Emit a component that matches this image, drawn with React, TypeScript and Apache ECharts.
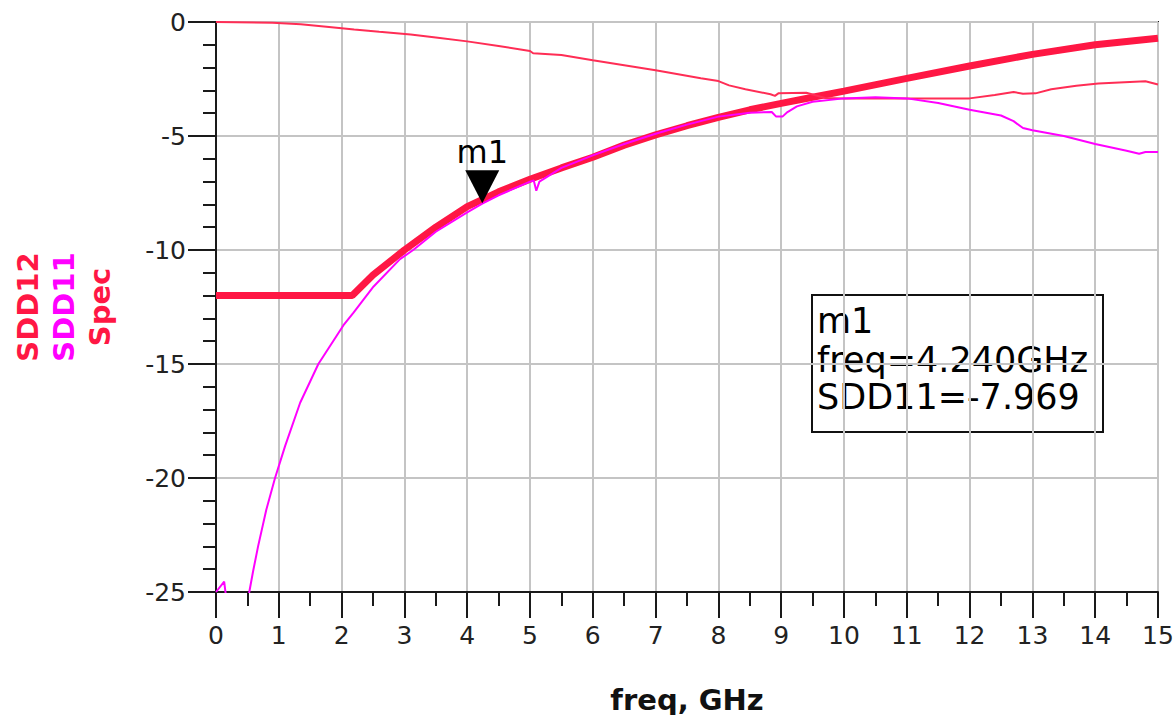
import React, { useEffect, useRef } from "react";
import * as echarts from "echarts";

// Differential return loss (SDD11), insertion loss (SDD12) and the spec mask, in dB vs frequency (GHz)
const freqSpec = [0, 2.17, 2.5, 3, 3.5, 4, 4.5, 5, 5.5, 6, 6.5, 7, 7.5, 8, 8.5, 9, 9.5, 10, 11, 12, 13, 14, 15];
const specDb = [-12, -12, -11.1, -10.0, -9.0, -8.1, -7.45, -6.9, -6.4, -5.93, -5.4, -4.95, -4.55, -4.18, -3.85, -3.57, -3.3, -3.03, -2.47, -1.93, -1.42, -1.0, -0.71];

const freqSdd11 = [0, 0.13, 0.22, 0.35, 0.48, 0.53, 0.59, 0.67, 0.8, 0.94, 1.1, 1.34, 1.63, 2.03, 2.19, 2.51, 2.93, 3.14, 3.5, 4.0, 4.24, 4.5, 5.0, 5.06, 5.1, 5.15, 5.5, 6, 6.5, 7, 7.5, 8, 8.5, 8.85, 8.92, 9.02, 9.1, 9.25, 9.5, 10, 10.5, 11, 11.5, 12, 12.5, 12.7, 12.85, 13, 13.5, 14, 14.5, 14.7, 14.8, 15];
const sdd11Db = [-25.0, -24.55, -26.5, -28, -25.6, -25.0, -24.1, -23.0, -21.4, -20.0, -18.6, -16.7, -15.0, -13.3, -12.75, -11.6, -10.4, -10.0, -9.2, -8.35, -7.969, -7.6, -7.0, -6.95, -7.4, -7.0, -6.4, -5.85, -5.35, -4.9, -4.5, -4.15, -3.98, -3.95, -4.15, -4.15, -3.95, -3.7, -3.5, -3.35, -3.3, -3.35, -3.55, -3.85, -4.1, -4.35, -4.65, -4.75, -5.0, -5.35, -5.65, -5.78, -5.7, -5.7];

const freqSdd12 = [0, 0.9, 1.35, 1.8, 2.2, 2.6, 3.1, 3.5, 4, 4.5, 5, 5.05, 5.5, 6, 6.5, 7, 7.72, 8, 8.17, 8.43, 8.83, 8.9, 8.96, 9.4, 9.7, 10, 11, 12, 12.4, 12.7, 12.85, 13.05, 13.3, 13.7, 14.05, 14.8, 15];
const sdd12Db = [0, -0.03, -0.1, -0.22, -0.33, -0.43, -0.55, -0.68, -0.85, -1.05, -1.27, -1.37, -1.45, -1.68, -1.9, -2.12, -2.47, -2.59, -2.78, -2.95, -3.17, -3.24, -3.12, -3.1, -3.33, -3.35, -3.35, -3.35, -3.2, -3.07, -3.15, -3.13, -2.95, -2.8, -2.7, -2.6, -2.74];

// Marker m1 on SDD11
const markerName = "m1";
const markerFreq = 4.24;
const markerValue = -7.969;

const RED = "#ff1744";
const RED_THIN = "#ff2d55";
const MAGENTA = "#ff00ff";
const INK = "#1a1a1a";
const FONT = "DejaVu Sans";

const zip = (xs: number[], ys: number[]) => xs.map((x, i) => [x, ys[i]]);

export default function App() {
  const ref = useRef<HTMLDivElement>(null);

  useEffect(() => {
    const chart = echarts.init(ref.current!, null, { renderer: "svg" });

    const tickStyle = { color: INK, width: 2 };
    const nameRich = {
      a: { color: RED, fontSize: 29, fontWeight: "bold", fontFamily: FONT, lineHeight: 36 },
      b: { color: MAGENTA, fontSize: 29, fontWeight: "bold", fontFamily: FONT, lineHeight: 36 },
      c: { color: RED, fontSize: 29, fontWeight: "bold", fontFamily: FONT, lineHeight: 36 },
    };

    chart.setOption({
      animation: false,
      backgroundColor: "#ffffff",
      grid: {
        left: 216,
        top: 22,
        right: 18,
        bottom: 123,
        containLabel: false,
        outerBoundsMode: "none",
        show: true,
        borderColor: INK,
        borderWidth: 2,
      },
      xAxis: {
        type: "value",
        min: 0,
        max: 15,
        interval: 1,
        axisLine: { onZero: false, lineStyle: tickStyle },
        axisTick: { length: 26, lineStyle: tickStyle },
        minorTick: { show: true, splitNumber: 2, length: 14, lineStyle: tickStyle },
        splitLine: { show: true, lineStyle: { color: "#c4c4c4", width: 2 } },
        axisLabel: { margin: 31, fontSize: 25, color: "#222", fontFamily: FONT },
        name: "freq, GHz",
        nameLocation: "middle",
        nameGap: 93,
        nameTextStyle: { fontSize: 29, fontWeight: "bold", color: "#111", fontFamily: FONT },
      },
      yAxis: {
        type: "value",
        min: -25,
        max: 0,
        interval: 5,
        axisLine: { onZero: false, lineStyle: tickStyle },
        axisTick: { length: 28, lineStyle: tickStyle },
        minorTick: { show: true, splitNumber: 5, length: 13, lineStyle: tickStyle },
        splitLine: { show: true, lineStyle: { color: "#c4c4c4", width: 2 } },
        axisLabel: { margin: 30, fontSize: 25, color: "#222", fontFamily: FONT },
        name: "{a|SDD12}\n{b|SDD11}\n{c|Spec}",
        nameLocation: "middle",
        nameRotate: 90,
        nameGap: 98,
        nameTextStyle: {
          fontSize: 29,
          fontWeight: "bold",
          fontFamily: FONT,
          lineHeight: 36,
          align: "center",
          rich: nameRich,
        },
      },
      series: [
        {
          name: "Spec",
          type: "line",
          data: zip(freqSpec, specDb),
          showSymbol: false,
          symbol: "none",
          lineStyle: { color: RED, width: 7 },
          z: 2,
        },
        {
          name: "SDD12",
          type: "line",
          data: zip(freqSdd12, sdd12Db),
          showSymbol: false,
          symbol: "none",
          lineStyle: { color: RED_THIN, width: 2 },
          z: 3,
        },
        {
          name: "SDD11",
          type: "line",
          data: zip(freqSdd11, sdd11Db),
          showSymbol: false,
          symbol: "none",
          lineStyle: { color: MAGENTA, width: 2 },
          z: 4,
        },
        {
          name: markerName,
          type: "scatter",
          data: [[markerFreq, markerValue]],
          symbol: "path://M0,0L20,0L10,20Z",
          symbolSize: [34, 33],
          symbolOffset: [0, -17],
          itemStyle: { color: "#000", opacity: 1 },
          label: {
            show: true,
            position: "top",
            distance: 2,
            formatter: markerName,
            fontSize: 32,
            color: "#000",
            fontFamily: FONT,
          },
          silent: true,
          z: 10,
        },
      ],
      graphic: [
        {
          type: "group",
          x: 812,
          y: 295,
          z: 20,
          children: [
            {
              type: "rect",
              shape: { x: 0, y: 0, width: 291, height: 137 },
              style: { fill: "#ffffff", stroke: "#111", lineWidth: 2 },
            },
            {
              type: "text",
              x: 5,
              y: 26,
              style: { text: markerName, fontSize: 35, fontFamily: FONT, fill: "#000", verticalAlign: "middle" },
            },
            {
              type: "text",
              x: 5,
              y: 65,
              style: {
                text: `freq=${markerFreq.toFixed(3)}GHz`,
                fontSize: 35,
                fontFamily: FONT,
                fill: "#000",
                verticalAlign: "middle",
              },
            },
            {
              type: "text",
              x: 5,
              y: 102,
              style: {
                text: `SDD11=${markerValue.toFixed(3)}`,
                fontSize: 35,
                fontFamily: FONT,
                fill: "#000",
                verticalAlign: "middle",
              },
            },
          ],
        },
      ],
    });

    return () => chart.dispose();
  }, []);

  return (
    <div
      ref={ref}
      style={{ position: "fixed", left: 0, top: 0, width: 1176, height: 715, background: "#fff" }}
    />
  );
}
